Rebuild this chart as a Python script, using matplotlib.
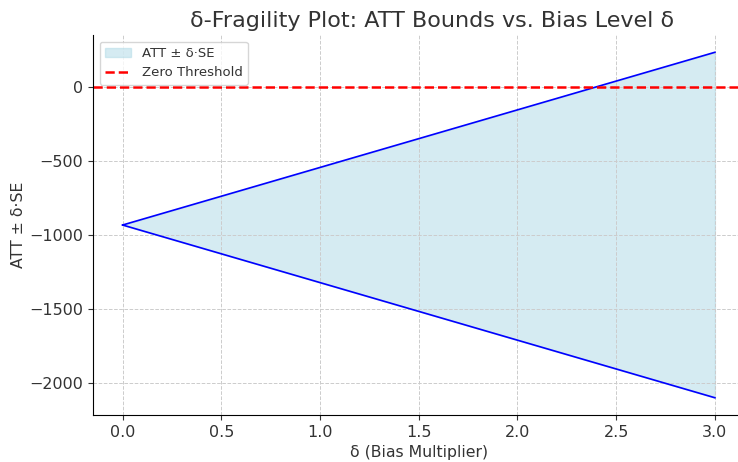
import numpy as np
import matplotlib.pyplot as plt

# Valores
delta = [0.0, 3.0]
att_superior = [-932, 238]
att_inferior = [-932, -2102]
umbral = 0

plt.rcParams['text.color'] = '#333333'
plt.rcParams['axes.labelcolor'] = '#333333'
plt.rcParams['xtick.color'] = '#333333'
plt.rcParams['ytick.color'] = '#333333'

fig = plt.figure(figsize=(7.38, 4.62), dpi=100)
ax = fig.add_axes([0.126, 0.1017, 0.8828, 0.8225])

ax.fill_between(delta, att_inferior, att_superior, color='lightblue', alpha=0.5,
                label='ATT ± δ·SE')
ax.plot(delta, att_superior, color='blue', linewidth=1.2)
ax.plot(delta, att_inferior, color='blue', linewidth=1.2)
ax.axhline(umbral, color='red', linestyle='--', linewidth=1.8, label='Zero Threshold')

ax.set_title('δ-Fragility Plot: ATT Bounds vs. Bias Level δ', fontsize=16, x=0.521)
ax.set_xlabel('δ (Bias Multiplier)', fontsize=11.3)
ax.set_ylabel('ATT ± δ·SE', fontsize=11.3, labelpad=2)
ax.tick_params(labelsize=11.5)

ax.grid(True, linestyle='--', color='#cccccc', linewidth=0.7)
ax.spines['top'].set_visible(False)
ax.spines['right'].set_visible(False)
ax.legend(loc='upper left', fontsize=9.5)

fig.savefig('out.png', dpi=100)
